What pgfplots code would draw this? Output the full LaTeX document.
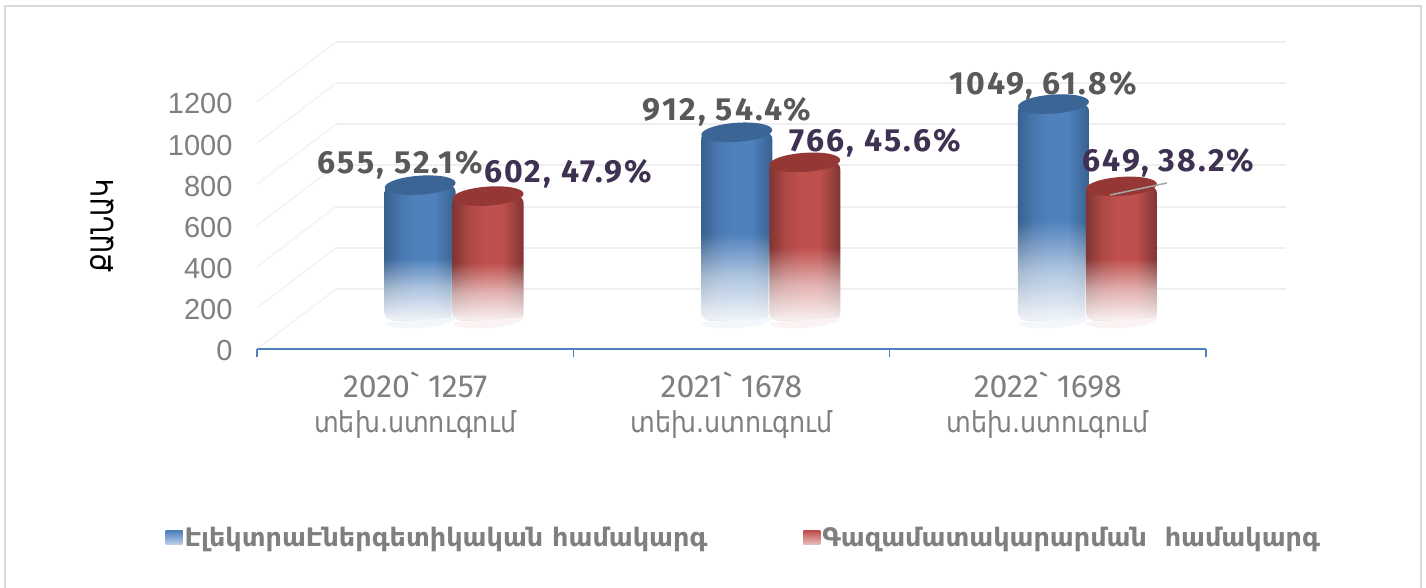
\documentclass[border=0pt]{standalone}
\usepackage{pgfplots}
\pgfplotsset{compat=1.18}
\usepackage{fontspec}
\usetikzlibrary{fadings}
\setmainfont{Liberation Sans}
\newfontfamily\armf{DejaVu Sans}
\newfontfamily\armc{DejaVu Sans}[FakeStretch=0.88]
\newfontfamily\army{DejaVu Sans}[FakeStretch=0.80]
\newfontfamily\numf{Fira Sans}
\newfontfamily\labf{Fira Sans}[BoldFont={Fira Sans Bold},LetterSpace=7.0]
\definecolor{blueM}{HTML}{4F81BD}
\definecolor{blueD}{HTML}{38618F}
\definecolor{blueT}{HTML}{3A6594}
\definecolor{redM}{HTML}{C0504D}
\definecolor{redD}{HTML}{7F3533}
\definecolor{redT}{HTML}{953735}
\definecolor{txtG}{HTML}{595959}
\definecolor{txtP}{HTML}{3F3151}
\definecolor{tickG}{HTML}{7F7F7F}
\definecolor{gridG}{HTML}{EFEFEF}
\pgfdeclarehorizontalshading{cylblue}{100bp}{color(0bp)=(blueD);color(25bp)=(blueD);color(36bp)=(blueM!92!black);color(46bp)=(blueM);color(60bp)=(blueM);color(75bp)=(blueD);color(100bp)=(blueD)}
\pgfdeclarehorizontalshading{cylred}{100bp}{color(0bp)=(redD);color(25bp)=(redD);color(36bp)=(redM!90!black);color(48bp)=(redM);color(60bp)=(redM);color(75bp)=(redD);color(100bp)=(redD)}
\tikzfading[name=fadeup,top color=transparent!100,bottom color=transparent!8,middle color=transparent!45]
\pgfdeclareplotmark{capell}{\pgftransformrotate{4}\pgfpathellipse{\pgfpointorigin}{\pgfqpoint{35.5pt}{0pt}}{\pgfqpoint{0pt}{9.5pt}}\pgfusepathqfill}
\pgfdeclareplotmark{botell}{\pgftransformrotate{4}\pgfpathmoveto{\pgfqpoint{-35.5pt}{0pt}}\pgfpatharc{180}{360}{35.5pt and 8pt}\pgfpathclose\pgfusepathqfill}
\newcommand{\lab}[4]{\node[font=\fontsize{32}{32}\selectfont\labf\bfseries,text=#4,inner sep=0pt] at (#1,#2) {#3};}
\pgfplotsset{
  bluebar/.style={ybar,bar width=71pt,bar shift=-34pt,draw=none,shade,shading=cylblue,rounded corners=7pt},
  redbar/.style={ybar,bar width=71pt,bar shift=34pt,draw=none,shade,shading=cylred,rounded corners=7pt},
  bluefade/.style={ybar,bar width=73pt,bar shift=-34pt,draw=none,fill=white,path fading=fadeup,rounded corners=2pt,forget plot},
  redfade/.style={ybar,bar width=73pt,bar shift=34pt,draw=none,fill=white,path fading=fadeup,rounded corners=2pt,forget plot},
}
\begin{document}
\begin{tikzpicture}
\path[use as bounding box] (0,0) rectangle (1426pt,587pt);
\fill[white] (0,0) rectangle (1426pt,587pt);
\draw[color=black!15,line width=1.5pt] (5pt,-6pt) rectangle (1421pt,581pt);
% side wall
\begin{scope}[x=1pt,y=-1pt,shift={(0pt,587pt)}]
\foreach \yy in {0,...,6}{
  \draw[gridG,line width=1.2pt,dash pattern=on 2pt off 0.6pt] (257,{349-41.17*\yy}) -- (336,{289-41.17*\yy});
}
\end{scope}
% back wall
\begin{axis}[name=back,at={(336pt,298pt)},anchor=south west,scale only axis,width=950pt,height=247pt,
  xmin=0,xmax=1,ymin=0,ymax=1200,ytick={0,200,...,1200},xtick=\empty,ymajorgrids,
  grid style={gridG,line width=2pt},axis line style={draw=none},major tick length=0pt,yticklabels={}]
\addplot[draw=none,forget plot] coordinates {(0,0)};
\end{axis}
% main axis
\begin{axis}[name=main,at={(257pt,238pt)},anchor=south west,scale only axis,width=949pt,height=247pt,
  xmin=-0.5,xmax=2.5,ymin=0,ymax=1200,
  axis x line=bottom,axis y line=left,
  x axis line style={draw=blueM,line width=1.5pt,-},
  y axis line style={draw=none},
  ytick={0,200,...,1200},xtick={0,1,2},
  xticklabels={{{\numf\fontsize{32}{36}\selectfont 2020` 1257}\\\armc տեխ.ստուգում},{{\numf\fontsize{32}{36}\selectfont 2021` 1678}\\\armc տեխ.ստուգում},{{\numf\fontsize{32}{36}\selectfont 2022` 1698}\\\armc տեխ.ստուգում}},
  xticklabel style={align=center,font=\fontsize{28.9}{35}\selectfont,text=tickG,yshift=-19pt},
  yticklabel style={font=\fontsize{29}{29}\selectfont,text=tickG,xshift=-21pt,yshift=-2pt},
  /pgf/number format/assume math mode=true,
  /pgf/number format/1000 sep={},
  major tick length=0pt,
  extra x ticks={-0.5,0.5,1.5,2.5},extra x tick labels={},
  extra x tick style={major tick length=8pt,tick align=outside,tick style={blueM,line width=1.5pt}},
  ylabel={\army ՔԱՆԱԿ},
  ylabel style={at={(axis description cs:-0.163,0.5)},anchor=center,rotate=0,font=\fontsize{31}{31}\selectfont,text=black},
]
\addplot[draw=none,forget plot] coordinates {(0,0)};
\end{axis}
% cylinders
\begin{axis}[name=bars,at={(295.8pt,267pt)},anchor=south west,scale only axis,width=950pt,height=247pt,
  xmin=-0.5,xmax=2.5,ymin=0,ymax=1200,axis lines=none,clip=false,
  legend style={at={(axis cs:-0.912,-1059)},anchor=west,draw=none,fill=none,legend columns=2,
    font=\fontsize{25.5}{25.5}\selectfont\armf\bfseries,text=tickG,
    /tikz/every even column/.append style={column sep=94pt},inner sep=0pt},
  legend cell align=left,
]
% blue
\addplot[bluebar,
  legend image code/.code={\shade[rounded corners=0pt,top color=blueM,bottom color=blueM!35,draw=none,shading=axis] (0pt,-7pt) rectangle (17pt,7pt);}]
  coordinates {(0,655)};
\addlegendentry{ԷլեկտրաԷներգետիկական համակարգ}
\addplot[bluebar,forget plot] coordinates {(1,912)};
\addplot[bluebar,forget plot] coordinates {(2,1049)};
\addplot[bluefade] coordinates {(0,301)};
\addplot[bluefade] coordinates {(1,420)};
\addplot[bluefade] coordinates {(2,483)};
\addplot[only marks,mark=botell,mark options={xshift=-34pt,fill=blueM!7,draw=none},forget plot]
  coordinates {(0,0) (1,0) (2,0)};
\addplot[only marks,mark=capell,mark options={xshift=-34pt,fill=blueT,draw=none},forget plot]
  coordinates {(0,655) (1,912) (2,1049)};
% red
\addplot[redbar,
  legend image code/.code={\shade[rounded corners=0pt,top color=redM,bottom color=redM!35,draw=none,shading=axis] (0pt,-7pt) rectangle (17pt,7pt);}]
  coordinates {(0,602)};
\addlegendentry{Գազամատակարարման\ \ համակարգ}
\addplot[redbar,forget plot] coordinates {(1,766)};
\addplot[redbar,forget plot] coordinates {(2,649)};
\addplot[redfade] coordinates {(0,277)};
\addplot[redfade] coordinates {(1,352)};
\addplot[redfade] coordinates {(2,299)};
\addplot[only marks,mark=botell,mark options={xshift=34pt,fill=redM!7,draw=none},forget plot]
  coordinates {(0,0) (1,0) (2,0)};
\addplot[only marks,mark=capell,mark options={xshift=34pt,fill=redT,draw=none},forget plot]
  coordinates {(0,602) (1,766) (2,649)};
\end{axis}
\begin{scope}[x=1pt,y=-1pt,shift={(0pt,587pt)}]
\draw[black!35,line width=1.5pt] (1110,195) -- (1167,183);
\lab{400.5}{165}{655, 52.1\%}{txtG}
\lab{568}{174}{602, 47.9\%}{txtP}
\lab{727}{112}{912, 54.4\%}{txtG}
\lab{875.5}{143}{766, 45.6\%}{txtP}
\lab{1043}{86}{1049, 61.8\%}{txtG}
\lab{1168.5}{163}{649, 38.2\%}{txtP}
\end{scope}
\end{tikzpicture}
\end{document}
